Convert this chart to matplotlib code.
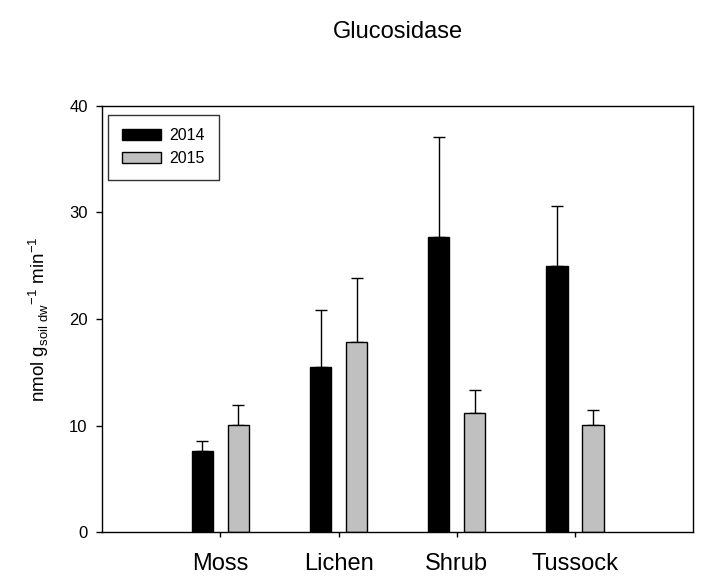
import matplotlib
matplotlib.use("Agg")
import matplotlib.pyplot as plt
import numpy as np

plt.rcParams['font.family'] = ['Liberation Sans', 'DejaVu Sans']

categories = ["Moss", "Lichen", "Shrub", "Tussock"]
years = ["2014", "2015"]
mean_2014 = [7.6, 15.5, 27.7, 24.95]
err_2014 = [1.0, 5.3, 9.35, 5.6]
mean_2015 = [10.05, 17.8, 11.15, 10.05]
err_2015 = [1.85, 6.0, 2.15, 1.4]
yticks = [0, 10, 20, 30, 40]

fig = plt.figure(figsize=(7.17, 5.87), dpi=100)
ax = fig.add_axes([0.1423, 0.0932, 0.967 - 0.1423, 0.82 - 0.0932])

x = np.arange(1, len(categories) + 1)
w = 0.18
off = 0.152

for means, errs, col, lab, sgn in [(mean_2014, err_2014, 'black', years[0], -1),
                                    (mean_2015, err_2015, '#c0c0c0', years[1], 1)]:
    ax.bar(x + sgn * off, means, width=w, color=col, edgecolor='black',
           linewidth=1.0, label=lab, zorder=2)
    ax.errorbar(x + sgn * off, means, yerr=[np.zeros(len(errs)), errs],
                fmt='none', ecolor='black', elinewidth=1.0, capsize=4.3,
                capthick=1.0, zorder=1)

ax.set_xlim(0, 5)
ax.set_ylim(0, 40)
ax.set_yticks(yticks)
ax.set_xticks(x)
ax.set_xticklabels(categories, fontsize=17)
ax.tick_params(axis='y', direction='out', length=4.3, width=1.0, labelsize=12, pad=6)
ax.tick_params(axis='x', direction='out', length=3.6, width=1.0, pad=11)
for s in ax.spines.values():
    s.set_linewidth(1.0)

ax.set_ylabel(r"nmol g$_{\mathregular{soil\ dw}}$$^{\mathregular{-1}}$ min$^{\mathregular{-1}}$",
              fontsize=13.5, labelpad=13)
fig.text(0.5544, 1 - 32 / 587, "Glucosidase", ha='center', va='center', fontsize=17)

leg = ax.legend(loc='upper left', bbox_to_anchor=(0.0102, 0.979), borderaxespad=0,
                fontsize=11.5, frameon=True, fancybox=False, edgecolor='black',
                handlelength=2.45, handleheight=0.75, handletextpad=0.55,
                labelspacing=0.5, borderpad=0.85)
leg.get_frame().set_linewidth(1.0)

fig.savefig("out.png", dpi=100)
